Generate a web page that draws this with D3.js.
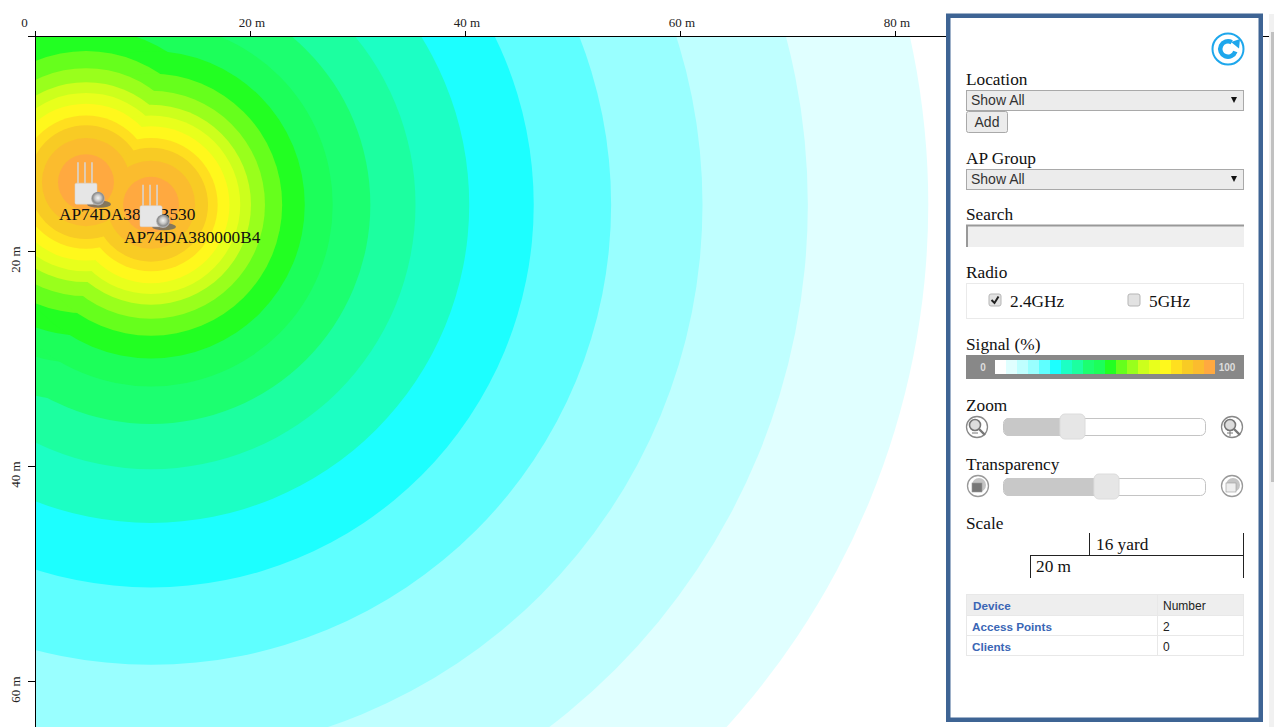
<!DOCTYPE html>
<html>
<head>
<meta charset="utf-8">
<script src="https://d3js.org/d3.v7.min.js"></script>
<style>
  html, body { margin: 0; padding: 0; background: #fff; overflow: hidden; }
  svg { display: block; }
  text { font-family: "Liberation Serif", serif; fill: #111; }
  .axis text { font-size: 13px; fill: #222; }
  .axis path, .axis line { stroke: #000; shape-rendering: crispEdges; }
  .label { font-size: 17.3px; }
  .sans { font-family: "Liberation Sans", sans-serif; }
</style>
</head>
<body>
<svg id="chart" width="1274" height="727"></svg>
<script>
// coverage bands, strongest first: colour and outer radius in metres
const bandColors = ["#ffa940", "#fbbc2e", "#f8cb24", "#ffdf1f", "#fff81c", "#e8ff1c", "#ccff1c", "#99ff1c", "#66ff1c", "#22ff22",
                    "#1cff5a", "#1cff70", "#1cffa0", "#1cffc4", "#1cffff", "#5fffff", "#99ffff", "#bfffff", "#e0ffff"];
const bandRadii = [2.6, 4.1, 5.3, 6.2, 7.3, 8.3, 9.3, 10.6, 12.2, 14.3, 16.9, 20.4, 24.6, 29.6, 35.6, 42.8, 51.3, 61.1, 72.3];

const apNames = ["AP74DA3800B530", "AP74DA380000B4"];
const apX = [4.65, 10.7];
const apY = [13.5, 15.6];

const xTicks = [0, 20, 40, 60, 80];
const yTicks = [20, 40, 60];

const legendCategories = d3.range(20);
const legendColors = ["#ffffff"].concat(bandColors.slice().reverse());

const deviceRows = ["Access Points", "Clients"];
const deviceCounts = [2, 0];

const svg = d3.select("#chart");
const x = d3.scaleLinear().domain([0, 80]).range([36, 896]);
const y = d3.scaleLinear().domain([0, 60]).range([37, 682]);

svg.append("clipPath").attr("id", "plot")
  .append("rect").attr("x", 36).attr("y", 37).attr("width", 915).attr("height", 690);

// heat map: each band is the union of one circle per AP, painted weakest first
const heat = svg.append("g").attr("clip-path", "url(#plot)");
const bands = heat.selectAll("g")
  .data(d3.range(bandColors.length - 1, -1, -1))
  .enter().append("g")
    .attr("fill", i => bandColors[i]);
bands.selectAll("circle")
  .data(i => apX.map((px, k) => ({ px: px, py: apY[k], r: bandRadii[i] })))
  .enter().append("circle")
    .attr("cx", d => x(d.px))
    .attr("cy", d => y(d.py))
    .attr("r", d => x(d.r) - x(0));

// axes, half a pixel up and left of the plot so the lines hug its edge
const topAxis = svg.append("g").attr("class", "axis")
  .attr("transform", "translate(0,36)")
  .call(d3.axisTop(d3.scaleLinear().domain([0, 80]).range([35, 895]))
    .tickValues(xTicks).tickSize(5).tickSizeOuter(0)
    .tickFormat(d => d === 0 ? "0" : d + " m"));
topAxis.select(".domain").attr("d", "M28,0.5H1270");
topAxis.selectAll("text").attr("y", -9).attr("dx", d => d === 0 ? -11 : 1.5);

const leftAxis = svg.append("g").attr("class", "axis")
  .attr("transform", "translate(35,0)")
  .call(d3.axisLeft(d3.scaleLinear().domain([0, 60]).range([36, 681])).tickValues(yTicks).tickSize(7).tickSizeOuter(0)
    .tickFormat(d => d + " m"));
leftAxis.select(".domain").attr("d", "M0.5,32V727");
leftAxis.selectAll("text")
  .attr("x", 0).attr("y", 0).attr("dy", 0)
  .attr("text-anchor", "middle")
  .attr("transform", "translate(-15,8) rotate(-90)");

// AP icons and names, later AP sits on top of the earlier label
const defs = svg.append("defs");
const globe = defs.append("radialGradient").attr("id", "globe").attr("cx", "50%").attr("cy", "45%");
globe.append("stop").attr("offset", "0%").attr("stop-color", "#f4f4f4");
globe.append("stop").attr("offset", "45%").attr("stop-color", "#c8c8c8");
globe.append("stop").attr("offset", "80%").attr("stop-color", "#8c8c8c");
globe.append("stop").attr("offset", "100%").attr("stop-color", "#b0b0b0");

const aps = svg.selectAll(".ap")
  .data(apNames.map((name, i) => ({ name: name, px: apX[i], py: apY[i] })))
  .enter().append("g")
    .attr("class", "ap")
    .attr("transform", d => `translate(${x(d.px)},${y(d.py)})`);
aps.append("ellipse").attr("cx", 13).attr("cy", 22).attr("rx", 12).attr("ry", 3.6).attr("fill", "#666").attr("opacity", 0.8);
aps.selectAll(".antenna").data([-8, -1, 6]).enter().append("line")
  .attr("x1", d => d).attr("x2", d => d).attr("y1", -20).attr("y2", 1)
  .attr("stroke", "#d8d8d8").attr("stroke-width", 1.5);
aps.append("rect").attr("x", -11).attr("y", 1).attr("width", 22).attr("height", 21).attr("rx", 1.5)
  .attr("fill", "#e6e6e6").attr("stroke", "#d4d4d4").attr("stroke-width", 0.5);
aps.append("circle").attr("cx", 12).attr("cy", 16.5).attr("r", 6.8).attr("fill", "url(#globe)");
aps.append("text").attr("class", "label").attr("x", -27).attr("y", 38).text(d => d.name);

// side panel
svg.append("rect").attr("x", 948.25).attr("y", 15.75).attr("width", 312.5).attr("height", 704)
  .attr("fill", "#fff").attr("stroke", "#3e6494").attr("stroke-width", 4.5);

// scrollbar
svg.append("rect").attr("x", 1269).attr("y", 14).attr("width", 5).attr("height", 713).attr("fill", "#f1f1f1");
svg.append("rect").attr("x", 1271).attr("y", 32).attr("width", 3).attr("height", 450).attr("fill", "#c1c1c1");

const panel = svg.append("g");

// refresh button
const refresh = panel.append("g").attr("transform", "translate(1228,49)");
refresh.append("circle").attr("r", 15.5).attr("fill", "none").attr("stroke", "#1ea7ec").attr("stroke-width", 2);
refresh.append("path").attr("d", d3.arc()({ innerRadius: 5.5, outerRadius: 10, startAngle: 1.9, endAngle: 2 * Math.PI + 0.5 }))
  .attr("fill", "#1ea7ec");
refresh.append("path").attr("d", "M3,-7L12,-10L11,-0.5Z").attr("fill", "#1ea7ec");

const headings = [["Location", 85], ["AP Group", 164], ["Search", 220], ["Radio", 278], ["Signal (%)", 350],
                  ["Zoom", 411], ["Transparency", 470], ["Scale", 529]];
panel.selectAll(".heading").data(headings).enter().append("text")
  .attr("class", "heading label")
  .attr("x", 966).attr("y", d => d[1]).text(d => d[0]);

// selects
const selects = panel.selectAll(".select").data([90, 169]).enter().append("g").attr("class", "select");
selects.append("rect").attr("x", 966.5).attr("y", d => d + 0.5).attr("width", 277).attr("height", 20)
  .attr("fill", "#ececec").attr("stroke", "#a9a9a9");
selects.append("text").attr("class", "sans").attr("x", 971).attr("y", d => d + 15)
  .style("font-size", "14px").style("fill", "#333").text("Show All");
selects.append("path").attr("d", d => `M1231,${d + 7}h6l-3,6z`).attr("fill", "#111");

panel.append("rect").attr("x", 966.5).attr("y", 111.5).attr("width", 41).attr("height", 21).attr("rx", 2)
  .attr("fill", "#ececec").attr("stroke", "#a9a9a9");
panel.append("text").attr("class", "sans").attr("x", 987).attr("y", 127).attr("text-anchor", "middle")
  .style("font-size", "14px").style("fill", "#333").text("Add");

// search box
panel.append("rect").attr("x", 966).attr("y", 225).attr("width", 278).attr("height", 22).attr("fill", "#efefef");
panel.append("path").attr("d", "M967,247V225.5H1244").attr("fill", "none").attr("stroke", "#999").attr("stroke-width", 2);

// radio
panel.append("rect").attr("x", 966.5).attr("y", 283.5).attr("width", 277).attr("height", 35)
  .attr("fill", "#fff").attr("stroke", "#eaeaea");
const radios = panel.selectAll(".radio").data([["2.4GHz", 989, true], ["5GHz", 1128, false]]).enter().append("g").attr("class", "radio");
radios.append("rect").attr("x", d => d[1]).attr("y", 294).attr("width", 12).attr("height", 12).attr("rx", 2)
  .attr("fill", "#e2e2e2").attr("stroke", "#b5b5b5");
radios.filter(d => d[2]).append("path")
  .attr("d", d => `M${d[1] + 2.5},300l3,3l4,-6.5`).attr("fill", "none").attr("stroke", "#222").attr("stroke-width", 2);
radios.append("text").attr("class", "label").attr("x", d => d[1] + 21).attr("y", 307).text(d => d[0]);

// signal legend
panel.append("rect").attr("x", 966).attr("y", 355).attr("width", 278).attr("height", 24).attr("fill", "#888");
const legendX = d3.scaleBand().domain(legendCategories).range([995, 1215]);
panel.selectAll(".cell").data(legendCategories).enter().append("rect")
  .attr("class", "cell")
  .attr("x", d => legendX(d)).attr("y", 360)
  .attr("width", legendX.bandwidth()).attr("height", 14)
  .attr("fill", d => legendColors[d]);
panel.selectAll(".legend-end").data([["0", 983], ["100", 1227]]).enter().append("text")
  .attr("class", "legend-end sans")
  .attr("x", d => d[1]).attr("y", 371).attr("text-anchor", "middle")
  .style("font-size", "10px").style("font-weight", "bold").style("fill", "#ddd").text(d => d[0]);

// sliders
const sliders = panel.selectAll(".slider").data([[418, 1072], [478, 1106]]).enter().append("g").attr("class", "slider");
sliders.append("rect").attr("x", 1003.5).attr("y", d => d[0] + 0.5).attr("width", 202).attr("height", 17).attr("rx", 5)
  .attr("fill", "#fff").attr("stroke", "#c4c4c4");
sliders.append("path").attr("d", d => `M${d[1]},${d[0]}H1009a5,5 0 0 0 -5,5v8a5,5 0 0 0 5,5H${d[1]}z`).attr("fill", "#c8c8c8");
sliders.append("rect").attr("x", d => d[1] - 12).attr("y", d => d[0] - 4).attr("width", 25).attr("height", 25).attr("rx", 5)
  .attr("fill", "#e6e6e6").attr("stroke", "#dcdcdc");

// zoom icons
const lens = panel.selectAll(".lens").data([[977, "minus"], [1232, "plus"]]).enter().append("g")
  .attr("class", "lens").attr("transform", d => `translate(${d[0]},427)`);
lens.append("circle").attr("r", 10.5).attr("fill", "#fff").attr("stroke", "#888").attr("stroke-width", 1.3);
lens.append("circle").attr("cx", -2).attr("cy", -2).attr("r", 5.5).attr("fill", "#ddd").attr("stroke", "#777").attr("stroke-width", 1.6);
lens.append("line").attr("x1", 2).attr("y1", 2).attr("x2", 8).attr("y2", 8).attr("stroke", "#777").attr("stroke-width", 2.4);
lens.append("path").attr("d", d => d[1] === "plus" ? "M-5,6h6M-2,3v6" : "M-5,6h6").attr("stroke", "#777").attr("stroke-width", 1);

// transparency icons
const layers = panel.selectAll(".layers").data([[978, "#777"], [1232, "#eee"]]).enter().append("g")
  .attr("class", "layers").attr("transform", d => `translate(${d[0]},486)`);
layers.append("circle").attr("r", 10.5).attr("fill", "#fff").attr("stroke", "#999").attr("stroke-width", 1.3);
layers.append("circle").attr("cx", 1).attr("cy", -1).attr("r", 7).attr("fill", "#c4c4c4");
layers.append("rect").attr("x", -6).attr("y", -3).attr("width", 10).attr("height", 9).attr("fill", d => d[1]).attr("stroke", "#999").attr("stroke-width", 0.6);

// scale bar
panel.append("path")
  .attr("d", "M1089.5,533V555M1243.5,533V578M1030,555.5H1244M1030.5,555V578")
  .attr("fill", "none").attr("stroke", "#222");
panel.append("text").attr("class", "label").attr("x", 1096).attr("y", 550).text("16 yard");
panel.append("text").attr("class", "label").attr("x", 1036).attr("y", 572).text("20 m");

// device table
const rowY = [594, 615, 635];
const rowHeight = [21, 20, 20];
const tableRows = [["Device", "Number"]].concat(deviceRows.map((d, i) => [d, String(deviceCounts[i])]));
const rows = panel.selectAll(".row").data(tableRows).enter().append("g").attr("class", "row");
rows.append("rect").attr("x", 966.5).attr("y", (d, i) => rowY[i] + 0.5).attr("width", 277).attr("height", (d, i) => rowHeight[i])
  .attr("fill", (d, i) => i === 0 ? "#eeeeee" : "#fff").attr("stroke", "#e8e8e8");
rows.append("line").attr("x1", 1157.5).attr("x2", 1157.5).attr("y1", (d, i) => rowY[i]).attr("y2", (d, i) => rowY[i] + rowHeight[i])
  .attr("stroke", "#e8e8e8");
rows.append("text").attr("class", "sans").attr("x", (d, i) => i === 0 ? 973 : 972).attr("y", (d, i) => rowY[i] + 16)
  .style("font-size", "11.7px").style("font-weight", "bold").style("fill", "#3a66b5").text(d => d[0]);
rows.append("text").attr("class", "sans").attr("x", 1163).attr("y", (d, i) => rowY[i] + 16)
  .style("font-size", "12px").style("fill", "#222").text(d => d[1]);
</script>
</body>
</html>
